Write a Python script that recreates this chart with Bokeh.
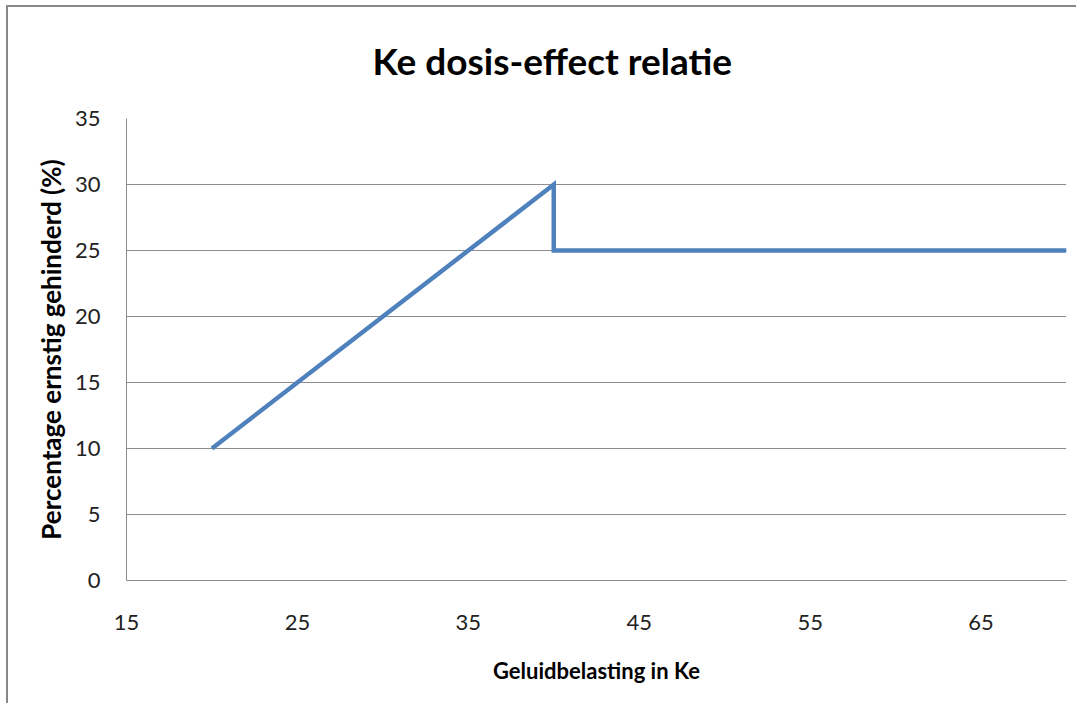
from bokeh.plotting import figure
from bokeh.models import Range1d, FixedTicker
from bokeh.embed import file_html
from bokeh.resources import INLINE

# data
x_values = [20, 40, 40, 70]
y_values = [10, 30, 25, 25]
x_ticks = [15, 25, 35, 45, 55, 65]
y_ticks = [0, 5, 10, 15, 20, 25, 30, 35]
title_text = "Ke dosis-effect relatie"
x_label = "Geluidbelasting in Ke"
y_label = "Percentage ernstig gehinderd (%)"

FONT = "Lato"
GRID = "#8c8c8c"

p = figure(width=1076, height=703, output_backend="svg", toolbar_location=None,
           x_range=Range1d(15, 70), y_range=Range1d(0, 35),
           min_border_left=126, min_border_right=10,
           min_border_top=118, min_border_bottom=123)

p.styles = {
    "background": "linear-gradient(#878787, #878787) 6px 5px / 2px 100% no-repeat, "
                  "linear-gradient(#878787, #878787) 6px 5px / 100% 2px no-repeat, white"
}

p.line(x_values, y_values, line_color="#4F81BD", line_width=4.5, line_join="miter")

p.title.text = title_text
p.title.text_font = FONT
p.title.text_font_size = "37px"
p.title.text_font_style = "bold"
p.title.text_color = "#000000"
p.title.align = "left"
p.title.offset = 246
p.title.standoff = 71

p.outline_line_color = None
p.background_fill_color = "white"
p.border_fill_color = None

p.xaxis.ticker = FixedTicker(ticks=x_ticks)
p.yaxis.ticker = FixedTicker(ticks=y_ticks)
p.xgrid.grid_line_color = None
p.ygrid.grid_line_color = GRID
p.ygrid.grid_line_width = 1

for ax in (p.xaxis, p.yaxis):
    ax.axis_line_color = GRID
    ax.axis_line_width = 1
    ax.major_tick_line_color = None
    ax.minor_tick_line_color = None
    ax.major_label_text_font = FONT
    ax.major_label_text_font_size = "22px"
    ax.major_label_text_color = "#222222"
    ax.axis_label_text_font = FONT
    ax.axis_label_text_font_style = "bold"
    ax.axis_label_text_color = "#000000"

p.xaxis.axis_label = x_label
p.yaxis.axis_label = y_label
p.xaxis.axis_label_text_font_size = "22px"
p.yaxis.axis_label_text_font_size = "26px"
p.xaxis.major_label_standoff = 28
p.yaxis.major_label_standoff = 20
p.xaxis.axis_label_standoff = 24
p.yaxis.axis_label_standoff = 5

open("out.html", "w").write(file_html(p, INLINE))
